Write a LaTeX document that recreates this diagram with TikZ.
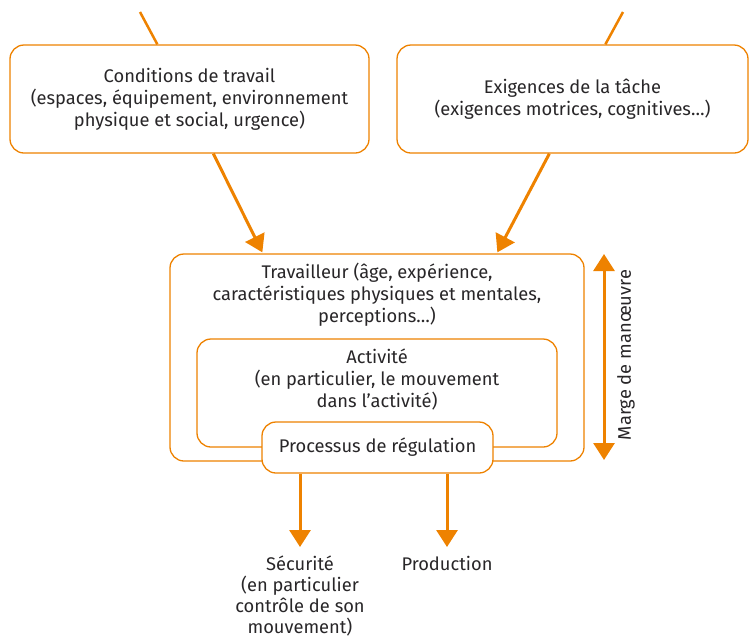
\documentclass[tikz,border=0pt]{standalone}
\usepackage{fontspec}
\setmainfont{Fira Sans}
\usetikzlibrary{arrows.meta,calc}
\definecolor{org}{RGB}{238,130,0}
\definecolor{txt}{RGB}{40,38,40}
\begin{document}
\begin{tikzpicture}[x=1pt,y=-1pt,
  every node/.style={text=txt,font=\fontsize{18.3}{22}\selectfont,align=center,inner sep=0pt},
  bx/.style={draw=org,line width=1.3pt,rounded corners=14pt,fill=white},
  arr/.style={draw=org,line width=3pt,-{Triangle[width=21pt,length=17pt]}},
  dbl/.style={draw=org,line width=3pt,{Triangle[width=21pt,length=17pt]}-{Triangle[width=21pt,length=17pt]}},
  ln/.style={draw=org,line width=2.5pt}]
\useasboundingbox (0,0) rectangle (749,641);
% top boxes
\node[bx,minimum width=359pt,minimum height=108pt] (b1) at (189.5,99) {};
\node (b1t) at (189.5,99) {Conditions de travail\\(espaces, équipement, environnement\\physique et social, urgence)};
\node[bx,minimum width=351pt,minimum height=108pt] (b2) at (572.5,99) {};
\node (b2t) at (572.5,99) {Exigences de la tâche\\(exigences motrices, cognitives…)};
\coordinate (in1) at (140,12);
\coordinate (in2) at (623,12);
\draw[ln] (in1) -- ($(b1.north west)+(148,0)$);
\draw[ln] (in2) -- ($(b2.north west)+(209,0)$);
% worker
\node[bx,minimum width=414pt,minimum height=207pt] (tr) at (377,357.5) {};
\node[anchor=north] (trt) at (377,263) {Travailleur (âge, expérience,\\caractéristiques physiques et mentales,\\perceptions…)};
\node[bx,minimum width=360pt,minimum height=108pt] (ac) at (377,393) {};
\node[anchor=north] (act) at (377,349) {Activité\\(en particulier, le mouvement\\dans l’activité)};
\node[bx,minimum width=231pt,minimum height=51pt] (pr) at (377.5,447.5) {Processus de régulation};
% arrows into worker
\draw[arr] ($(b1.south west)+(204,0)$) -- ($(tr.north west)+(93,-1)$);
\draw[arr] ($(b2.south west)+(153,0)$) -- ($(tr.north west)+(328,-1)$);
% marge
\coordinate (m1) at (604,254);
\coordinate (m2) at (604,460);
\draw[dbl] (m1) -- (m2);
\node[rotate=90] (mg) at (626,355) {Marge de manœuvre};
% outputs
\node[anchor=north,font=\fontsize{18.3}{21}\selectfont] (sec) at (300,556) {Sécurité\\(en particulier\\contrôle de son\\mouvement)};
\node[anchor=north] (prod) at (447,556) {Production};
\draw[arr] (pr.south -| sec.north) -- ($(sec.north)+(0,-9)$);
\draw[arr] (pr.south -| prod.north) -- ($(prod.north)+(0,-9)$);
\end{tikzpicture}
\end{document}
